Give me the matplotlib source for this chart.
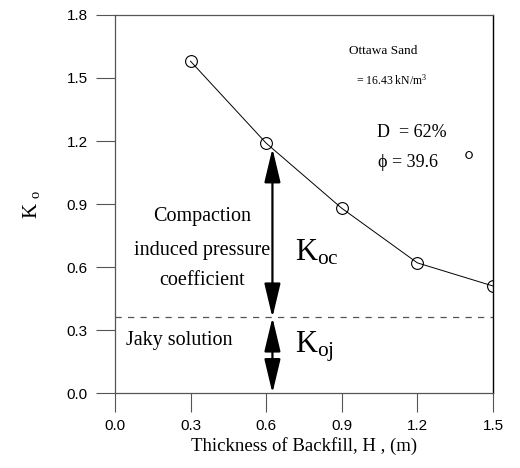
import matplotlib
matplotlib.use("Agg")
from matplotlib import pyplot as plt

# data
thickness = [0.3, 0.6, 0.9, 1.2, 1.5]
k_o = [1.58, 1.19, 0.88, 0.62, 0.51]
jaky_k = 0.36
arrow_x = 0.625
arrow_top = 1.165

x_ticks = [0.0, 0.3, 0.6, 0.9, 1.2, 1.5]
y_ticks = [0.0, 0.3, 0.6, 0.9, 1.2, 1.5, 1.8]

plt.rcParams["mathtext.fontset"] = "custom"
plt.rcParams["mathtext.rm"] = "Liberation Serif"
plt.rcParams["mathtext.it"] = "Liberation Serif"

serif = "Liberation Serif"
sans = "Liberation Sans"
grey = "#555555"

fig = plt.figure(figsize=(5.2, 4.68), dpi=100)
ax = fig.add_axes([0.221, 0.160, 0.727, 0.808])

ax.plot(thickness, k_o, "-", color="black", lw=0.7, marker="o", ms=8.5,
        mfc="none", mec="black", mew=0.8)
ax.axhline(jaky_k, color=grey, lw=0.9, ls=(0, (5, 5)))

arrow_style = "<|-|>,head_length=2.1,head_width=0.5"
ax.annotate("", xy=(arrow_x, arrow_top), xytext=(arrow_x, jaky_k),
            arrowprops=dict(arrowstyle=arrow_style, color="black", lw=1.6,
                            shrinkA=0, shrinkB=0))
ax.annotate("", xy=(arrow_x, jaky_k), xytext=(arrow_x, 0.0),
            arrowprops=dict(arrowstyle=arrow_style, color="black", lw=1.6,
                            shrinkA=0, shrinkB=0))

ax.set_xlim(0, 1.5)
ax.set_ylim(0, 1.8)
ax.set_xticks(x_ticks)
ax.set_yticks(y_ticks)
ax.set_xticklabels(["%.1f" % v for v in x_ticks], fontfamily=sans, fontsize=11)
ax.set_yticklabels(["%.1f" % v for v in y_ticks], fontfamily=sans, fontsize=11)
ax.tick_params(direction="out", length=13.5, width=0.8, color=grey)
ax.tick_params(axis="x", pad=5)
ax.tick_params(axis="y", pad=6)

for side in ["left", "bottom", "top"]:
    ax.spines[side].set_color(grey)
    ax.spines[side].set_linewidth(0.9)
ax.spines["right"].set_color("black")
ax.spines["right"].set_linewidth(1.0)

ax.set_xlabel("Thickness of Backfill, H , (m)", fontfamily=serif, fontsize=13.5,
              labelpad=3)
ax.set_ylabel("K $_{\\rm o}$", fontfamily=serif, fontsize=15, labelpad=18)

# annotations
ax.text(0.927, 1.63, "Ottawa Sand", fontfamily=serif, fontsize=9.5, va="center")
ax.text(0.955, 1.49, "= 16.43 kN/m$^3$", fontfamily=serif, fontsize=8.5, va="center")
ax.text(1.04, 1.24, "D  = 62%", fontfamily=serif, fontsize=13, va="center")
ax.text(1.045, 1.10, "\u03d5 = 39.6", fontfamily=serif, fontsize=13, va="center")
ax.text(1.385, 1.10, "\u00b0", fontfamily=serif, fontsize=18, va="center")

ax.text(0.345, 0.84, "Compaction", fontfamily=serif, fontsize=14.5,
        ha="center", va="center")
ax.text(0.345, 0.68, "induced pressure", fontfamily=serif, fontsize=14.5,
        ha="center", va="center")
ax.text(0.345, 0.535, "coefficient", fontfamily=serif, fontsize=14.5,
        ha="center", va="center")
ax.text(0.045, 0.25, "Jaky solution", fontfamily=serif, fontsize=14.5, va="center")

ax.text(0.715, 0.67, "K$_{\\rm oc}$", fontfamily=serif, fontsize=22, va="center")
ax.text(0.715, 0.22, "K$_{\\rm oj}$", fontfamily=serif, fontsize=22, va="center")

fig.savefig("out.png", dpi=100)
